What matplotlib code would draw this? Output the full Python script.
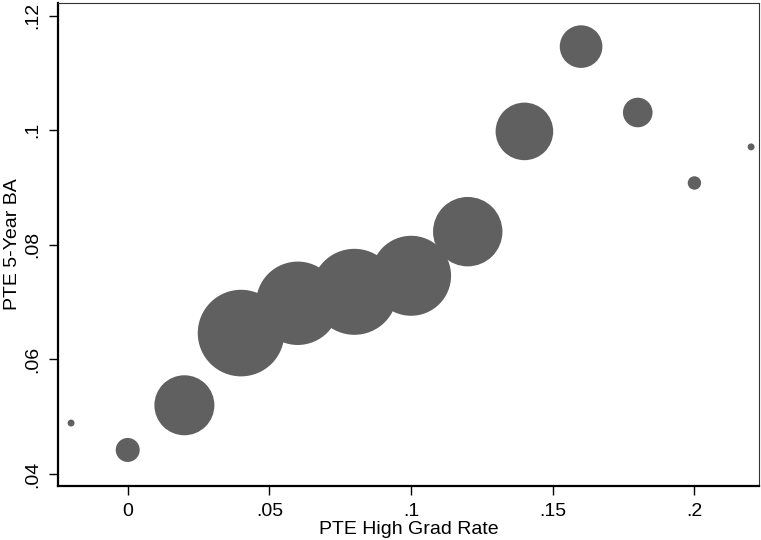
import matplotlib
matplotlib.use("Agg")
import matplotlib.pyplot as plt

plt.rcParams['font.family'] = ['Liberation Sans', 'DejaVu Sans']

# Data
grad_rate = [-0.02, 0.0, 0.02, 0.04, 0.06, 0.08, 0.10, 0.12, 0.14, 0.16, 0.18, 0.20, 0.22]
ba_5yr = [0.0489, 0.0442, 0.0520, 0.0646, 0.0698, 0.0718, 0.0746, 0.0823, 0.0998, 0.1146, 0.1031, 0.0908, 0.0971]
weights = [12, 144, 900, 1875, 1739, 1849, 1600, 1204, 829, 454, 219, 45, 12]

x_ticks = [0.0, 0.05, 0.10, 0.15, 0.20]
x_ticklabels = ["0", ".05", ".1", ".15", ".2"]
y_ticks = [0.04, 0.06, 0.08, 0.10, 0.12]
y_ticklabels = [".04", ".06", ".08", ".1", ".12"]

W, H = 761, 540
fig = plt.figure(figsize=(W / 100, H / 100), dpi=100)
ax = fig.add_axes([58.3 / W, 1 - 485.7 / H, (759.3 - 58.3) / W, (485.7 - 3.3) / H])

# bubble area proportional to weight; weight ~ radius_px^2
px_to_pt = 72 / 100
sizes = [w * 4 * px_to_pt ** 2 for w in weights]
ax.scatter(grad_rate, ba_5yr, s=sizes, color='#606060', edgecolors='none', zorder=3)

ax.set_xlim(-0.0245, 0.2229)
ax.set_ylim(0.03796, 0.12216)
ax.set_xticks(x_ticks)
ax.set_xticklabels(x_ticklabels)
ax.set_yticks(y_ticks)
ax.set_yticklabels(y_ticklabels, rotation=90, va='center')

ax.tick_params(axis='both', length=6.5, width=1.0, color='black', labelsize=14, pad=6)
for side in ['top', 'right']:
    ax.spines[side].set_linewidth(0.8)
    ax.spines[side].set_color('#333333')
for side in ['left', 'bottom']:
    ax.spines[side].set_linewidth(1.6)
    ax.spines[side].set_color('black')

ax.set_xlabel("PTE High Grad Rate", fontsize=14, labelpad=1)
ax.set_ylabel("PTE 5-Year BA", fontsize=14, labelpad=2)

fig.savefig("out.png", dpi=100)
